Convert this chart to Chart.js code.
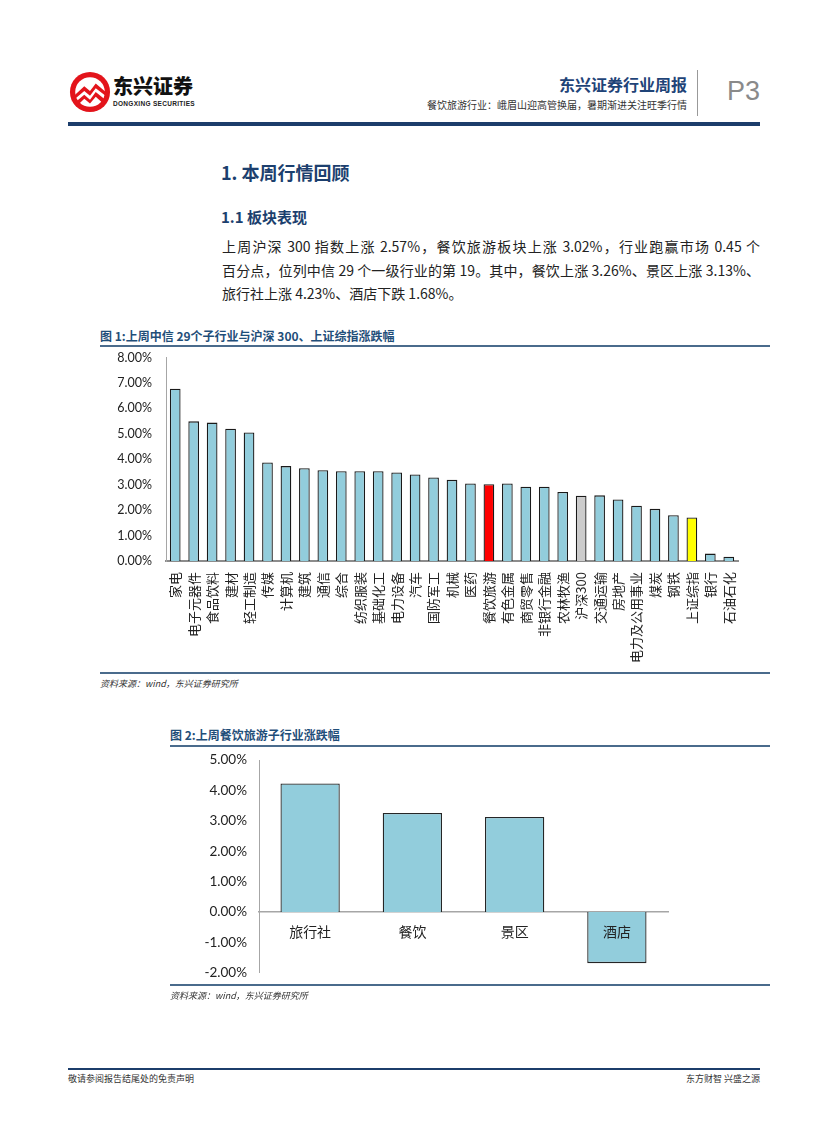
<!DOCTYPE html>
<html>
<head>
<meta charset="utf-8">
<script src="https://cdn.jsdelivr.net/npm/chart.js@4/dist/chart.umd.min.js"></script>
<style>
    body { margin: 0; background: #fff; font-family: "Noto Sans CJK SC", "Liberation Sans", sans-serif; color: #222; }
    .page { position: relative; width: 827px; height: 1122px; overflow: hidden; }
    .abs { position: absolute; white-space: nowrap; }
    .navy { color: #1c3f6e; }
    .rule { position: absolute; background: #4a6b8c; height: 2px; }
    .para { position: absolute; left: 222px; width: 538px; font-size: 14px; line-height: 23.5px; }
    .para div { text-align: justify; text-align-last: justify; }
    .para div.last { text-align-last: left; }
    .src { font-size: 9px; font-style: italic; color: #333; }
</style>
</head>
<body>
<div class="page">
    <!-- header -->
    <svg class="abs" style="left:69px;top:71px" width="42" height="42" viewBox="0 0 44 44">
        <circle cx="22" cy="22" r="21" fill="#e3141b"/>
        <circle cx="22" cy="22" r="15.5" fill="#fff"/>
        <path d="M3 28 L16 16 L22 21 L28 13 L41 24 L41 28 L28 18 L22 26 L16 21 L3 32 Z" fill="#e3141b"/>
        <path d="M5 34 L16 25 L22 30 L28 22 L39 31 L37 35 L28 27 L22 34 L16 29 L8 37 Z" fill="#e3141b"/>
    </svg>
    <div class="abs" style="left:113px;top:71px;font-size:20px;font-weight:900;color:#111">东兴证券</div>
    <div class="abs" style="left:113px;top:100px;font-size:6.5px;font-weight:bold;color:#222;font-family:'Liberation Sans';letter-spacing:0.3px">DONGXING SECURITIES</div>
    <div class="abs navy" style="right:140px;top:72px;font-size:16px;font-weight:bold;color:#1f4478">东兴证券行业周报</div>
    <div class="abs" style="right:140px;top:97px;font-size:10px;color:#333">餐饮旅游行业：峨眉山迎高管换届，暑期渐进关注旺季行情</div>
    <div class="abs" style="left:697px;top:70px;width:1px;height:46px;background:#999"></div>
    <div class="abs" style="left:727px;top:76px;font-size:27px;color:#8a8a8a;font-family:'Liberation Sans Narrow','Liberation Sans'">P3</div>
    <div class="abs" style="left:68px;top:122px;width:692px;height:4px;background:#1c3d6b"></div>

    <!-- section text -->
    <div class="abs navy" style="left:221px;top:159px;font-size:18px;font-weight:bold">1. 本周行情回顾</div>
    <div class="abs navy" style="left:221px;top:206px;font-size:15px;font-weight:bold">1.1 板块表现</div>
    <div class="para" style="top:235px">
        <div>上周沪深 300 指数上涨 2.57%，餐饮旅游板块上涨 3.02%，行业跑赢市场 0.45 个</div>
        <div>百分点，位列中信 29 个一级行业的第 19。其中，餐饮上涨 3.26%、景区上涨 3.13%、</div>
        <div class="last">旅行社上涨 4.23%、酒店下跌 1.68%。</div>
    </div>

    <!-- figure 1 -->
    <div class="abs" style="left:100px;top:327px;font-size:12px;font-weight:bold;color:#1f4e79">图 1:上周中信 29个子行业与沪深 300、上证综指涨跌幅</div>
    <div class="rule" style="left:100px;top:345px;width:670px"></div>
    <div class="abs" style="left:100px;top:344px;width:670px;height:328px"><canvas id="chart1"></canvas></div>
    <div class="rule" style="left:100px;top:672px;width:670px"></div>
    <div class="abs src" style="left:100px;top:677px">资料来源：wind，东兴证券研究所</div>

    <!-- figure 2 -->
    <div class="abs" style="left:170px;top:726px;font-size:12px;font-weight:bold;color:#1f4e79">图 2:上周餐饮旅游子行业涨跌幅</div>
    <div class="rule" style="left:170px;top:745px;width:600px"></div>
    <div class="abs" style="left:170px;top:748px;width:600px;height:237px"><canvas id="chart2"></canvas></div>
    <div class="rule" style="left:170px;top:984px;width:600px"></div>
    <div class="abs src" style="left:170px;top:989px">资料来源：wind，东兴证券研究所</div>

    <!-- footer -->
    <div class="abs" style="left:68px;top:1068px;width:692px;height:2px;background:#1c3d6b"></div>
    <div class="abs" style="left:68px;top:1072px;font-size:9px;color:#333">敬请参阅报告结尾处的免责声明</div>
    <div class="abs" style="right:67px;top:1072px;font-size:9px;color:#333">东方财智 兴盛之源</div>
</div>

<script>
// 图1: 中信一级行业 + 指数 周涨跌幅(%)
const industries = ["家电", "电子元器件", "食品饮料", "建材", "轻工制造", "传媒", "计算机", "建筑", "通信", "综合",
    "纺织服装", "基础化工", "电力设备", "汽车", "国防军工", "机械", "医药", "餐饮旅游", "有色金属", "商贸零售",
    "非银行金融", "农林牧渔", "沪深300", "交通运输", "房地产", "电力及公用事业", "煤炭", "钢铁", "上证综指", "银行", "石油石化"];
const industryChange = [6.77, 5.49, 5.44, 5.20, 5.05, 3.87, 3.73, 3.65, 3.57, 3.53,
    3.53, 3.53, 3.48, 3.40, 3.28, 3.19, 3.05, 3.02, 3.05, 2.92,
    2.92, 2.71, 2.57, 2.58, 2.42, 2.17, 2.05, 1.80, 1.71, 0.29, 0.17];
const chart1Ticks = [0, 1, 2, 3, 4, 5, 6, 7, 8];

// 图2: 餐饮旅游子行业
const subSectors = ["旅行社", "餐饮", "景区", "酒店"];
const subChange = [4.23, 3.26, 3.13, -1.68];
const chart2Ticks = [-2, -1, 0, 1, 2, 3, 4, 5];

const barBlue = "#92cddc";
const highlight = { "餐饮旅游": "#ff0000", "沪深300": "#cccccc", "上证综指": "#ffff00" };
const tickFont = { family: "Lato, 'Liberation Sans', sans-serif", size: 12.5 };

document.addEventListener("DOMContentLoaded", function () {
    Chart.defaults.animation = false;
    Chart.defaults.responsive = true;
    Chart.defaults.maintainAspectRatio = false;
    Chart.defaults.plugins.legend.display = false;
    Chart.defaults.plugins.tooltip.enabled = false;

    new Chart(document.getElementById("chart1"), {
        type: "bar",
        data: {
            labels: industries,
            datasets: [{
                data: industryChange,
                backgroundColor: industries.map(n => highlight[n] || barBlue),
                borderColor: "#1a1a1a",
                borderWidth: 1.3,
                barPercentage: 0.58,
                categoryPercentage: 1
            }]
        },
        options: {
            layout: { padding: { top: 0, right: 32, left: 0, bottom: 0 } },
            scales: {
                x: {
                    grid: { display: false },
                    border: { display: true, color: "#8c8c8c", width: 2 },
                    afterFit: s => { s.height = 111; },
                    ticks: {
                        autoSkip: false, maxRotation: 90, minRotation: 90, padding: 3,
                        color: "#222",
                        font: { family: "'Noto Sans CJK SC'", size: 13 }
                    }
                },
                y: {
                    min: 0, max: 8,
                    afterFit: s => { s.width = 66; },
                    afterBuildTicks: s => { s.ticks = chart1Ticks.map(v => ({ value: v })); },
                    grid: { display: false },
                    border: { display: true, color: "#a6a6a6", width: 1 },
                    ticks: { color: "#222", padding: 6, font: tickFont, callback: v => v.toFixed(2) + "%" }
                }
            }
        }
    });

    new Chart(document.getElementById("chart2"), {
        type: "bar",
        data: {
            labels: subSectors,
            datasets: [{
                data: subChange,
                backgroundColor: barBlue,
                borderColor: "#262626",
                borderWidth: 1.3,
                barPercentage: 0.58,
                categoryPercentage: 1
            }]
        },
        options: {
            layout: { padding: { top: 0, right: 102, left: 0, bottom: 0 } },
            scales: {
                x: {
                    position: { y: 0 },
                    grid: { display: false },
                    border: { display: true, color: "#a6a6a6", width: 1.5 },
                    afterFit: s => { s.height = 0; },
                    // 标签画在柱子上面(酒店在负值柱内)
                    ticks: { z: 1, color: "#222", padding: 3, font: { family: "'Noto Sans CJK SC'", size: 14 } }
                },
                y: {
                    min: -2, max: 5,
                    afterFit: s => { s.width = 89; },
                    afterBuildTicks: s => { s.ticks = chart2Ticks.map(v => ({ value: v })); },
                    grid: { display: false },
                    border: { display: true, color: "#a6a6a6", width: 1 },
                    ticks: { color: "#222", padding: 4, font: { family: "Lato, 'Liberation Sans', sans-serif", size: 13.5 }, callback: v => v.toFixed(2) + "%" }
                }
            }
        }
    });
});
</script>
</body>
</html>
